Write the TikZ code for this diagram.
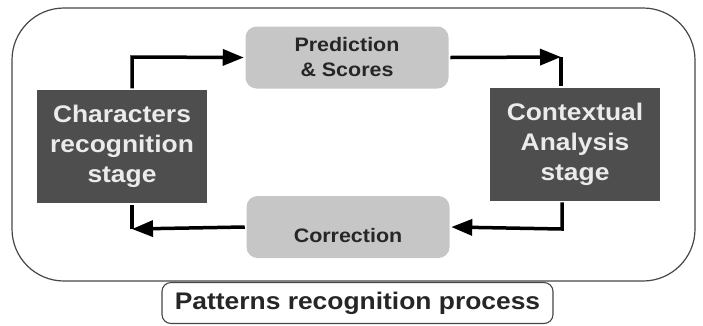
\documentclass[tikz,border=0pt]{standalone}
\usepackage{fontspec}
\newfontfamily\diagfont[FakeStretch=1.1]{Liberation Sans}
\usetikzlibrary{positioning, arrows.meta}
\definecolor{stagegray}{RGB}{78,78,78}
\definecolor{boxgray}{RGB}{198,198,198}
\definecolor{inkgray}{RGB}{38,38,38}
\definecolor{framegray}{RGB}{70,70,70}

\begin{document}
\begin{tikzpicture}[x=1pt,y=-1pt,-,line width=3.5pt]
        \tikzstyle{point}=[coordinate]
        \tikzstyle{arrow}=[-{Triangle[length=21pt,width=16pt]}]
        \tikzstyle{stagebox}=[fill=stagegray, text=white!92!black, align=center, inner sep=0pt,
            minimum width=170pt, minimum height=113pt,
            font=\diagfont\bfseries\fontsize{24}{30}\selectfont]
        \tikzstyle{lightbox}=[fill=boxgray, text=inkgray, align=center, inner sep=0pt,
            rounded corners=11pt, minimum width=203pt, minimum height=62pt,
            font=\diagfont\bfseries\fontsize{19.5}{25}\selectfont]
        \tikzstyle{frame}=[draw=framegray, line width=1.2pt, rounded corners=52pt]
        \tikzstyle{caption}=[draw=framegray, fill=white, line width=1.1pt, rounded corners=9pt,
            text=inkgray, inner sep=0pt, minimum width=391pt, minimum height=41pt,
            font=\diagfont\bfseries\fontsize{24}{28}\selectfont]
        \useasboundingbox (0,0) rectangle (703,325);
        % outer process frame
        \draw[frame] (12,8) rectangle (695,281);
        \node[caption]   (8) at (357.5,303)   {Patterns recognition process};
        % stages and exchanged data
        \node[stagebox]  (0) at (122,146.5)   {Characters\\recognition\\stage};
        \node[lightbox]  (1) at (347,57.5)    {Prediction\\\& Scores};
        \node[stagebox]  (2) at (575,144)     {Contextual\\Analysis\\stage};
        \node[lightbox, text height=30pt, text depth=0pt] (3) at (348,227) {Correction};
        \node[point]     (4) at (132,57)      {};
        \node[point]     (5) at (561,57)      {};
        \node[point]     (6) at (562,229)     {};
        \node[point]     (7) at (132,229)     {};
        \draw[arrow] (0.north -| 4) -- (4) -- (1.west);
        \draw[arrow] (1.east) -- (5);
        \draw        (5) -- (5 |- 2.north);
        \draw[arrow] (2.south -| 6) -- (6) -- (3.east);
        \draw[arrow] (3.west) -- (7);
        \draw        (7) -- (7 |- 0.south);
    \end{tikzpicture}
\end{document}
